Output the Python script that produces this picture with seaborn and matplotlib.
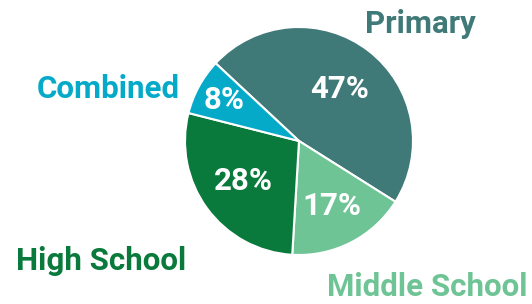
import numpy as np
import matplotlib
matplotlib.use("Agg")
import matplotlib.pyplot as plt
import seaborn as sns

categories = ["Primary", "Middle School", "High School", "Combined"]
shares = [47, 17, 28, 8]
colors = ["#407a78", "#6fc495", "#0a7a3c", "#05aac8"]

sns.set_theme(style="white")
plt.rcParams["font.family"] = ["Roboto", "DejaVu Sans"]

W, H = 532, 304
fig = plt.figure(figsize=(W / 100, H / 100), dpi=100)
cx, cy, R = 299, 141, 114
ax = fig.add_axes([(cx - R) / W, (H - cy - R) / H, 2 * R / W, 2 * R / H])

wedges, _ = ax.pie(shares, colors=colors, startangle=137, counterclock=False,
                   radius=1, wedgeprops=dict(edgecolor="white", linewidth=1.5))
ax.set_xlim(-1, 1)
ax.set_ylim(-1, 1)
ax.set_aspect("equal")
ax.axis("off")

pct_r = [0.58, 0.64, 0.6, 0.75]
for w, s, r in zip(wedges, shares, pct_r):
    mid = np.deg2rad((w.theta1 + w.theta2) / 2)
    ax.text(r * np.cos(mid), r * np.sin(mid), f"{s}%", ha="center", va="center",
            color="white", fontsize=22.5, fontweight="bold")

label_pos = {"Primary": (420, 24), "Middle School": (427, 287),
             "High School": (101, 261), "Combined": (108, 89)}
for cat, col in zip(categories, colors):
    px, py = label_pos[cat]
    fig.text(px / W, 1 - py / H, cat, ha="center", va="center", color=col,
             fontsize=22.5, fontweight="bold")

fig.savefig("out.png", dpi=100)
